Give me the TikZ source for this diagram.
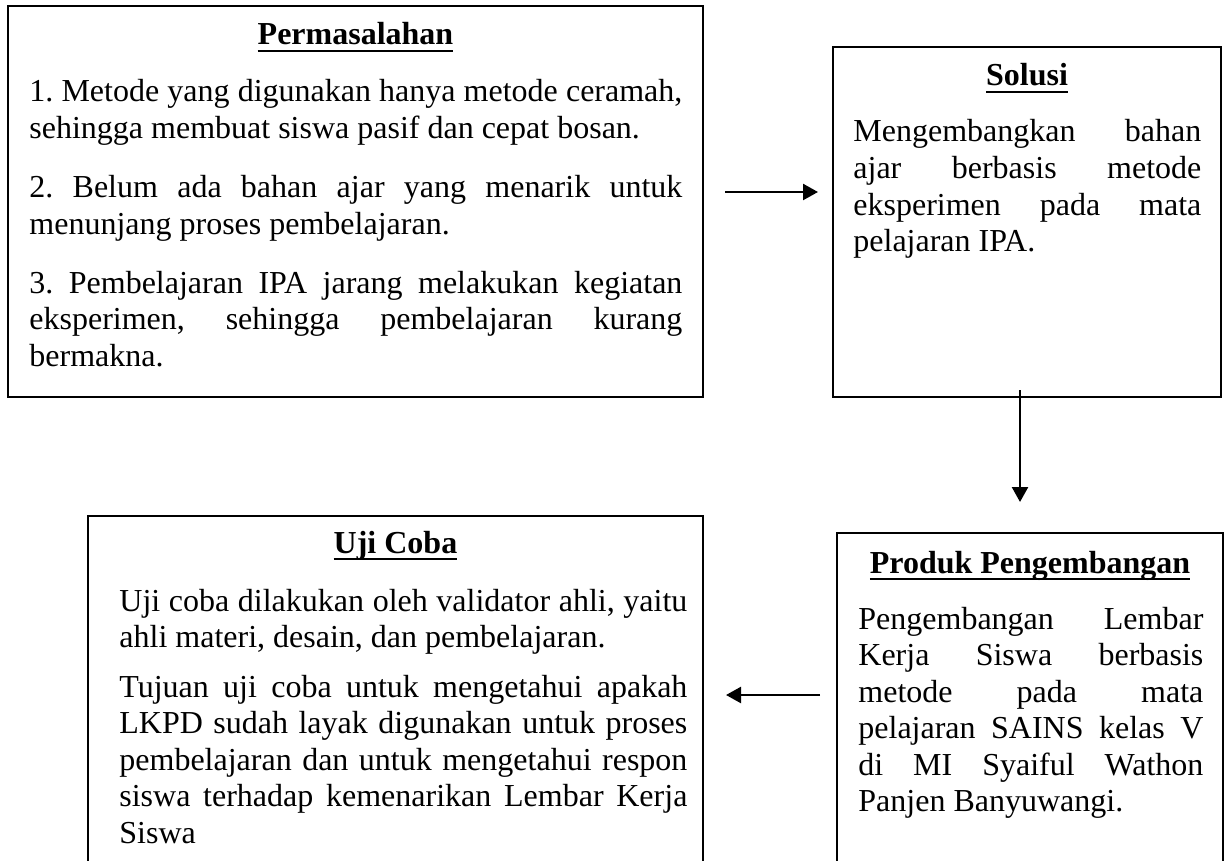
\documentclass[tikz,border=0pt]{standalone}
\usepackage{fontspec}
\setmainfont{Liberation Serif}
\usetikzlibrary{arrows.meta}
\frenchspacing
\newcommand\boxtitle[1]{\setbox0=\hbox{\bfseries #1}\rlap{\rule[-3.6pt]{\wd0}{1.2pt}}\box0}
\begin{document}
\begin{tikzpicture}[x=0.5pt,y=-0.5pt,
  frame/.style={draw, line width=0.65pt, rectangle, inner sep=0pt},
  para/.style={font=\fontsize{16}{18.25}\selectfont, inner sep=0pt, anchor=base west, align=justify,
    execute at begin node={\frenchspacing\hyphenpenalty=10000 \tolerance=10000 \hbadness=10000}},
  ttlnode/.style={font=\fontsize{16}{18.25}\selectfont, inner sep=0pt, anchor=base},
  arr/.style={line width=1.2pt, -{Triangle[length=7.5pt,width=8pt]}}]
\clip (0,0) rectangle (1230,861);
\fill[white] (0,0) rectangle (1230,861);

% Permasalahan
\node[frame, minimum width=347.5pt, minimum height=195.5pt] (perm) at (355.5,201.5) {};
\node[ttlnode] (permT) at (355.5,45) {\boxtitle{Permasalahan}};
\node[para, text width=326.5pt] (p1) at (29,102) {1. Metode yang digunakan hanya metode ceramah,\linebreak sehingga membuat siswa pasif dan cepat bosan.};
\node[para, text width=326.5pt] (p2) at (29,198) {2. Belum ada bahan ajar yang menarik untuk\linebreak menunjang proses pembelajaran.};
\node[para, text width=326.5pt] (p3) at (29,293) {3. Pembelajaran IPA jarang melakukan kegiatan\linebreak eksperimen, sehingga pembelajaran kurang\linebreak bermakna.};

% Solusi
\node[frame, minimum width=194pt, minimum height=175pt] (sol) at (1027,222) {};
\node[ttlnode] (solT) at (1027,86) {\boxtitle{Solusi}};
\node[para, text width=174pt] (s1) at (853,142) {Mengembangkan bahan\linebreak ajar berbasis metode\linebreak eksperimen pada mata\linebreak pelajaran IPA.};

% Produk Pengembangan
\node[frame, minimum width=193pt, minimum height=173.5pt] (prod) at (1030,706.5) {};
\node[ttlnode] (prodT) at (1030,573) {\boxtitle{Produk Pengembangan}};
\node[para, text width=172.5pt] (r1) at (858,629) {Pengembangan Lembar\linebreak Kerja Siswa berbasis\linebreak metode pada mata\linebreak pelajaran SAINS kelas V\linebreak di MI Syaiful Wathon\linebreak Panjen Banyuwangi.};

% Uji Coba
\node[frame, minimum width=307.5pt, minimum height=182pt] (uji) at (395.5,698) {};
\node[ttlnode] (ujiT) at (395.5,553) {\boxtitle{Uji Coba}};
\node[para, text width=284pt] (u1) at (119,611) {Uji coba dilakukan oleh validator ahli, yaitu\linebreak ahli materi, desain, dan pembelajaran.};
\node[para, text width=284pt] (u2) at (119,697) {Tujuan uji coba untuk mengetahui apakah\linebreak LKPD sudah layak digunakan untuk proses\linebreak pembelajaran dan untuk mengetahui respon\linebreak siswa terhadap kemenarikan Lembar Kerja\linebreak Siswa};

% arrows
\coordinate (a1s) at (725,192);
\coordinate (a1e) at (818,192);
\coordinate (a2s) at (1020,390);
\coordinate (a2e) at (1020,502);
\coordinate (a3s) at (820,695);
\coordinate (a3e) at (726,695);
\draw[arr] (a1s) -- (a1e);
\draw[arr] (a2s) -- (a2e);
\draw[arr] (a3s) -- (a3e);
\end{tikzpicture}
\end{document}
